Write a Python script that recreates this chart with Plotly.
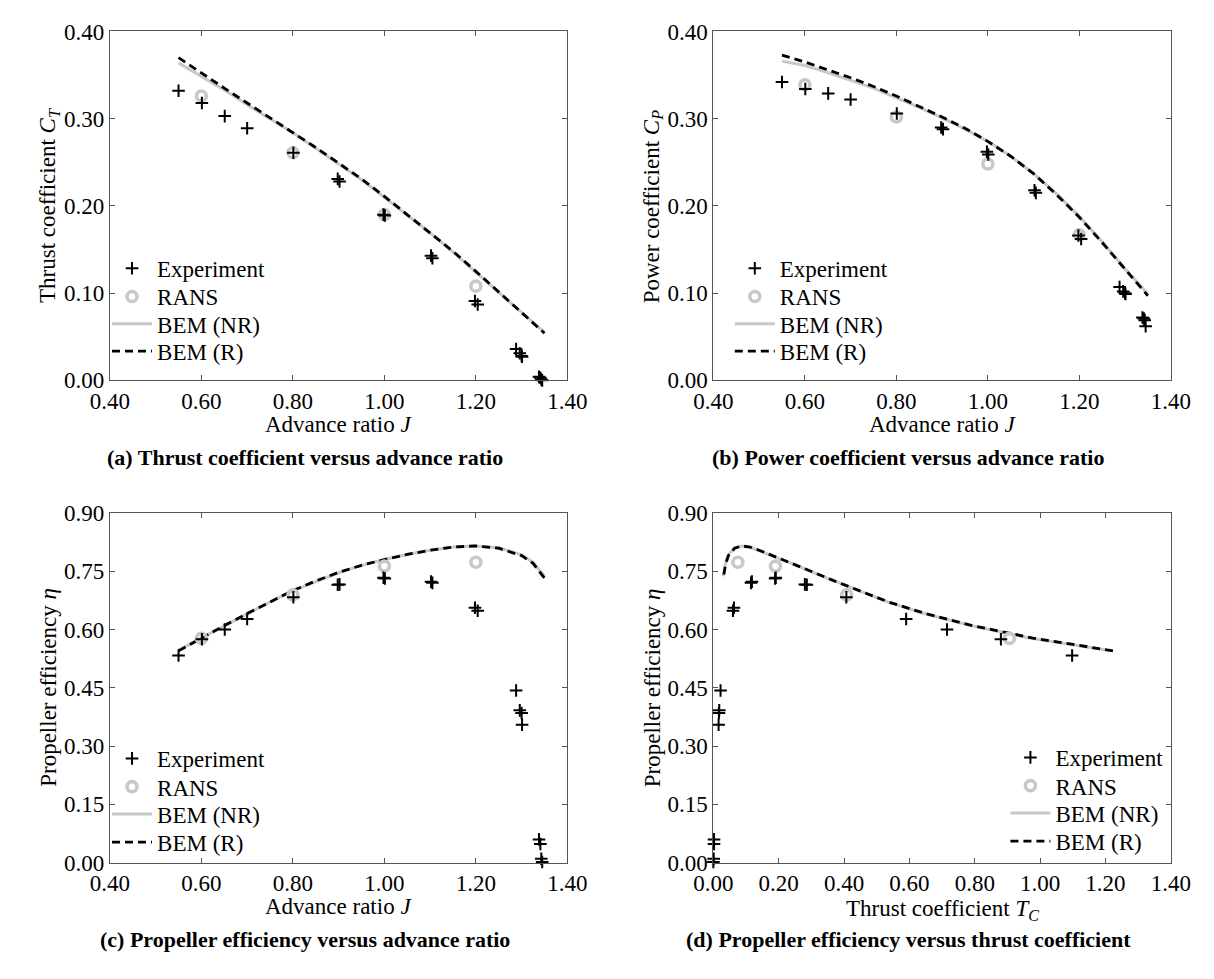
import plotly.graph_objects as go

# ---------------------------------------------------------------------------
# Measured and computed propeller performance data
# ---------------------------------------------------------------------------
# Experiment (repeated runs at each advance ratio)
J_exp = [0.550, 0.601, 0.651, 0.700, 0.801, 0.898, 0.902, 0.998, 1.001,
         1.102, 1.105, 1.198, 1.204, 1.288, 1.296, 1.300, 1.301,
         1.338, 1.341, 1.343, 1.345]
CT_exp = [0.332, 0.318, 0.303, 0.289, 0.261, 0.231, 0.228, 0.190, 0.189,
          0.143, 0.140, 0.091, 0.087, 0.036, 0.031, 0.028, 0.027,
          0.004, 0.003, 0.001, 0.000]
CP_exp = [0.342, 0.334, 0.329, 0.322, 0.306, 0.290, 0.288, 0.262, 0.259,
          0.218, 0.215, 0.166, 0.162, 0.107, 0.102, 0.100, 0.099,
          0.072, 0.071, 0.069, 0.062]
eta_exp = [0.533, 0.575, 0.600, 0.627, 0.683, 0.715, 0.716, 0.733, 0.731,
           0.723, 0.720, 0.656, 0.648, 0.443, 0.392, 0.385, 0.355,
           0.060, 0.048, 0.010, 0.002]
TC_exp = [1.098, 0.880, 0.715, 0.590, 0.407, 0.286, 0.280, 0.191, 0.189,
          0.118, 0.115, 0.063, 0.060, 0.022, 0.018, 0.017, 0.016,
          0.002, 0.002, 0.001, 0.000]

# RANS simulations
J_rans = [0.60, 0.80, 1.00, 1.20]
CT_rans = [0.326, 0.261, 0.190, 0.108]
CP_rans = [0.339, 0.302, 0.248, 0.167]
eta_rans = [0.577, 0.689, 0.763, 0.773]
TC_rans = [0.906, 0.408, 0.190, 0.075]

# Blade element momentum, non-rotating (NR) and rotating (R) polars
J_bem = [0.55, 0.60, 0.65, 0.70, 0.75, 0.80, 0.85, 0.90, 0.95, 1.00,
         1.05, 1.10, 1.15, 1.20, 1.25, 1.30, 1.325, 1.35]
CT_bem_nr = [0.364, 0.348, 0.333, 0.316, 0.300, 0.284, 0.266, 0.248, 0.230,
             0.210, 0.190, 0.169, 0.147, 0.124, 0.101, 0.077, 0.066, 0.055]
CT_bem_r = [0.370, 0.352, 0.335, 0.318, 0.301, 0.285, 0.267, 0.249, 0.231,
            0.211, 0.190, 0.170, 0.148, 0.125, 0.101, 0.077, 0.066, 0.054]
CP_bem_nr = [0.366, 0.361, 0.353, 0.344, 0.335, 0.324, 0.313, 0.301, 0.288,
             0.274, 0.257, 0.237, 0.214, 0.188, 0.159, 0.128, 0.113, 0.099]
CP_bem_r = [0.373, 0.365, 0.356, 0.347, 0.337, 0.326, 0.314, 0.302, 0.289,
            0.274, 0.257, 0.237, 0.213, 0.187, 0.158, 0.127, 0.112, 0.097]
eta_bem_nr = [0.547, 0.578, 0.610, 0.641, 0.671, 0.700, 0.724, 0.746, 0.765,
              0.780, 0.793, 0.804, 0.812, 0.815, 0.810, 0.792, 0.773, 0.737]
eta_bem_r = [0.545, 0.578, 0.610, 0.641, 0.671, 0.700, 0.725, 0.747, 0.765,
             0.780, 0.793, 0.804, 0.812, 0.815, 0.809, 0.790, 0.770, 0.732]
TC_bem_nr = [1.203, 0.967, 0.788, 0.645, 0.533, 0.444, 0.368, 0.306, 0.255,
             0.210, 0.172, 0.140, 0.111, 0.086, 0.065, 0.046, 0.038, 0.030]
TC_bem_r = [1.223, 0.978, 0.793, 0.649, 0.535, 0.445, 0.370, 0.307, 0.256,
            0.211, 0.172, 0.140, 0.112, 0.087, 0.065, 0.046, 0.038, 0.030]

# ---------------------------------------------------------------------------
# Styling
# ---------------------------------------------------------------------------
W, H = 1214, 979
FONT = "Liberation Serif"
TXT = 23
GREY = "#c8c8c8"
AXIS = "#555555"


def px_x(px):
    return px / W


def px_y(py):
    return 1 - py / H


# pixel boxes of the four panels: (left, right, top, bottom)
boxes = {
    1: (93, 566, 20, 378),
    2: (717, 1190, 20, 378),
    3: (93, 566, 514, 873),
    4: (717, 1190, 514, 873),
}

panels = [
    # k, x data, y data (experiment, RANS, BEM NR, BEM R), x range, y range, y step
    (1, (J_exp, J_rans, J_bem, J_bem), (CT_exp, CT_rans, CT_bem_nr, CT_bem_r),
     [0.4, 1.4], [0, 0.4], 0.1),
    (2, (J_exp, J_rans, J_bem, J_bem), (CP_exp, CP_rans, CP_bem_nr, CP_bem_r),
     [0.4, 1.4], [0, 0.4], 0.1),
    (3, (J_exp, J_rans, J_bem, J_bem), (eta_exp, eta_rans, eta_bem_nr, eta_bem_r),
     [0.4, 1.4], [0, 0.9], 0.15),
    (4, (TC_exp, TC_rans, TC_bem_nr, TC_bem_r), (eta_exp, eta_rans, eta_bem_nr, eta_bem_r),
     [0, 1.4], [0, 0.9], 0.15),
]

# legend placement per panel: left edge and the centre of each row
# (rows: Experiment, RANS, BEM (NR), BEM (R))
legend_left = {1: 90, 2: 734, 3: 90, 4: 1019}
legend_rows = {1: [263, 292, 320, 348], 2: [263, 292, 320, 348],
               3: [766, 795, 823, 852], 4: [765, 794, 822, 851]}

fig = go.Figure()
layout = dict(
    width=W, height=H,
    margin=dict(l=0, r=0, t=0, b=0),
    paper_bgcolor="white", plot_bgcolor="white",
    font=dict(family=FONT, size=TXT, color="black"),
    showlegend=True,
)

legend_count = 0


def next_legend(k, row):
    """One legend box per entry so every row sits exactly where wanted."""
    global legend_count
    legend_count += 1
    name = "legend" if legend_count == 1 else f"legend{legend_count}"
    layout[name] = dict(
        x=px_x(legend_left[k]), y=px_y(legend_rows[k][row]),
        xanchor="left", yanchor="middle", xref="paper", yref="paper",
        bgcolor="rgba(0,0,0,0)", borderwidth=0,
        font=dict(family=FONT, size=TXT, color="black"),
        itemwidth=40, tracegroupgap=0,
    )
    return name


for k, xs, ys, xr, yr, dy in panels:
    xa = "x" if k == 1 else f"x{k}"
    ya = "y" if k == 1 else f"y{k}"
    common = dict(xaxis=xa, yaxis=ya, cliponaxis=False)
    fig.add_trace(go.Scatter(
        x=xs[2], y=ys[2], mode="lines", name="BEM (NR)",
        line=dict(color=GREY, width=3), legend=next_legend(k, 2), **common))
    fig.add_trace(go.Scatter(
        x=xs[3], y=ys[3], mode="lines", name="BEM (R)",
        line=dict(color="black", width=2.8, dash="8px,5px"),
        legend=next_legend(k, 3), **common))
    fig.add_trace(go.Scatter(
        x=xs[1], y=ys[1], mode="markers", name="RANS",
        marker=dict(symbol="circle-open", size=10, color=GREY,
                    line=dict(width=3.6, color=GREY)),
        legend=next_legend(k, 1), **common))
    fig.add_trace(go.Scatter(
        x=xs[0], y=ys[0], mode="markers", name="Experiment",
        marker=dict(symbol="cross-thin", size=9, color="black",
                    line=dict(width=2, color="black")),
        legend=next_legend(k, 0), **common))

    l, r, t, b = boxes[k]
    axkey_x = "xaxis" if k == 1 else f"xaxis{k}"
    axkey_y = "yaxis" if k == 1 else f"yaxis{k}"
    axis_common = dict(
        showline=True, linecolor=AXIS, linewidth=1, mirror="ticks",
        ticks="inside", ticklen=5, tickcolor=AXIS, tickwidth=1,
        showgrid=False, zeroline=False, tickformat=".2f",
        tickfont=dict(family=FONT, size=TXT, color="black"),
    )
    layout[axkey_x] = dict(domain=[px_x(l), px_x(r)], range=xr, dtick=0.2,
                           tick0=0, anchor=ya, **axis_common)
    layout[axkey_y] = dict(domain=[px_y(b), px_y(t)], range=yr, dtick=dy,
                           tick0=0, anchor=xa, **axis_common)

fig.update_layout(**layout)

# axis titles and sub-captions
x_titles = {1: "Advance ratio <i>J</i>", 2: "Advance ratio <i>J</i>",
            3: "Advance ratio <i>J</i>", 4: "Thrust coefficient <i>T<sub>C</sub></i>"}
x_title_gap = {1: 45, 2: 45, 3: 45, 4: 49}
y_titles = {1: "Thrust coefficient <i>C<sub>T</sub></i>",
            2: "Power coefficient <i>C<sub>P</sub></i>",
            3: "Propeller efficiency <i>η</i>",
            4: "Propeller efficiency <i>η</i>"}
captions = {1: "(a) Thrust coefficient versus advance ratio",
            2: "(b) Power coefficient versus advance ratio",
            3: "(c) Propeller efficiency versus advance ratio",
            4: "(d) Propeller efficiency versus thrust coefficient"}

for k, (l, r, t, b) in boxes.items():
    cx = (l + r) / 2
    cy = (t + b) / 2
    fig.add_annotation(x=px_x(cx), y=px_y(b + x_title_gap[k]), xref="paper", yref="paper",
                       text=x_titles[k], showarrow=False, xanchor="center", yanchor="middle",
                       font=dict(family=FONT, size=TXT, color="black"))
    fig.add_annotation(x=px_x(l - 63), y=px_y(cy), xref="paper", yref="paper",
                       text=y_titles[k], showarrow=False, textangle=-90,
                       xanchor="center", yanchor="middle",
                       font=dict(family=FONT, size=TXT, color="black"))
    fig.add_annotation(x=px_x(cx - 35), y=px_y(b + 79), xref="paper", yref="paper",
                       text=f"<b>{captions[k]}</b>", showarrow=False,
                       xanchor="center", yanchor="middle",
                       font=dict(family=FONT, size=22, color="black"))

fig.write_html("out.html")
